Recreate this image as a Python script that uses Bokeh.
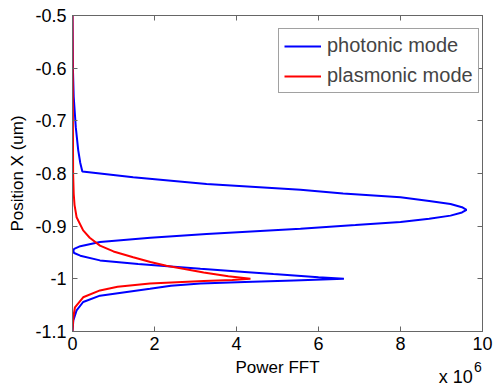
from bokeh.plotting import figure
from bokeh.models import (Range1d, LinearAxis, FixedTicker, CustomJSTickFormatter,
                          Legend, LegendItem)
from bokeh.embed import file_html
from bokeh.resources import INLINE

# ---- data (x in units of 1e6) ----
photonic_y = [-0.500, -0.600, -0.655, -0.712, -0.756, -0.780, -0.796, -0.807, -0.820,
              -0.831, -0.838, -0.845, -0.852, -0.858, -0.864, -0.869, -0.874, -0.880,
              -0.886, -0.892, -0.898, -0.905, -0.915, -0.922, -0.930, -0.938, -0.943,
              -0.947, -0.951, -0.956, -0.965, -0.972, -0.981, -0.987, -0.991, -0.997,
              -1.000, -1.003, -1.006, -1.009, -1.013, -1.019, -1.032, -1.044, -1.060,
              -1.079, -1.100]
photonic_x = [0.00, 0.01, 0.03, 0.08, 0.14, 0.19, 0.24, 1.48, 3.27,
              5.56, 6.60, 8.00, 8.70, 9.22, 9.50, 9.61, 9.50, 9.22,
              8.70, 8.00, 6.90, 5.56, 3.27, 1.90, 0.67, 0.19, 0.04,
              0.02, 0.04, 0.19, 0.67, 1.60, 3.12, 4.20, 4.90, 6.00,
              6.62, 5.40, 4.20, 3.12, 2.40, 1.89, 0.67, 0.26, 0.10,
              0.02, 0.00]

plasmonic_y = [-0.500, -0.600, -0.700, -0.800, -0.839, -0.860, -0.883, -0.908, -0.922,
               -0.937, -0.948, -0.959, -0.968, -0.975, -0.981, -0.988, -0.995, -1.000,
               -1.002, -1.004, -1.009, -1.015, -1.022, -1.035, -1.054, -1.073, -1.100]
plasmonic_x = [0.00, 0.005, 0.01, 0.015, 0.03, 0.05, 0.10, 0.26, 0.42,
               0.67, 1.00, 1.48, 1.90, 2.29, 2.70, 3.20, 3.80, 4.34,
               3.90, 3.20, 1.89, 1.10, 0.67, 0.26, 0.06, 0.02, 0.00]

x_ticks = [0, 2, 4, 6, 8, 10]
y_ticks = [-1.1, -1.0, -0.9, -0.8, -0.7, -0.6, -0.5]
series_names = ["photonic mode", "plasmonic mode"]
mult_base_text = "x 10"
mult_exp_text = "6"
mult_base_anchor = [9.35]
mult_exp_anchor = [9.89]

FONT = "Liberation Sans"
AX = "#666666"

p = figure(width=493, height=389, x_range=Range1d(0, 10), y_range=Range1d(-1.1, -0.5),
           output_backend="svg", toolbar_location=None,
           min_border_left=72, min_border_right=11, min_border_top=15, min_border_bottom=58)
p.grid.visible = False
p.outline_line_color = AX
p.background_fill_color = "white"

fmt = CustomJSTickFormatter(code="return (Math.round(tick*10)/10).toString();")
blank = CustomJSTickFormatter(code="return '';")

p.xaxis.ticker = FixedTicker(ticks=x_ticks)
p.yaxis.ticker = FixedTicker(ticks=y_ticks)
p.yaxis.formatter = fmt
p.xaxis.axis_label = "Power FFT"
p.yaxis.axis_label = "Position X (um)"

top = LinearAxis(ticker=FixedTicker(ticks=x_ticks), formatter=blank)
right = LinearAxis(ticker=FixedTicker(ticks=y_ticks), formatter=blank)
p.add_layout(top, "above")
p.add_layout(right, "right")

for ax in p.xaxis + p.yaxis:
    ax.major_tick_in = 5
    ax.major_tick_out = 0
    ax.minor_tick_in = 0
    ax.minor_tick_out = 0
    ax.axis_line_color = AX
    ax.major_tick_line_color = AX
    ax.major_label_text_font = FONT
    ax.major_label_text_font_size = "18px"
    ax.major_label_text_color = "black"
    ax.axis_label_text_font = FONT
    ax.axis_label_text_font_size = "17px"
    ax.axis_label_text_font_style = "normal"
    ax.axis_label_text_color = "black"

for ax in (top, right):
    ax.major_label_standoff = 0

p.xaxis[0].major_label_standoff = 6
p.xaxis[0].axis_label_standoff = 1
p.yaxis[0].major_label_standoff = 6
p.yaxis[0].axis_label_standoff = 5


def text_axis(anchor, text, size, standoff):
    a = LinearAxis(ticker=FixedTicker(ticks=anchor),
                   formatter=CustomJSTickFormatter(code="return '%s';" % text))
    a.axis_line_color = None
    a.major_tick_in = 0
    a.major_tick_out = 0
    a.minor_tick_in = 0
    a.minor_tick_out = 0
    a.major_label_standoff = standoff
    a.major_label_text_font = FONT
    a.major_label_text_font_size = size
    a.major_label_text_color = "black"
    return a


# exponent label "x 10^6" under the right end of the x axis
p.add_layout(text_axis(mult_base_anchor, mult_base_text, "18px", -13), "below")
p.add_layout(text_axis(mult_exp_anchor, mult_exp_text, "14px", -28), "below")

r1 = p.line(photonic_x, photonic_y, line_color="#0000FF", line_width=2)
r2 = p.line(plasmonic_x, plasmonic_y, line_color="#FF0000", line_width=2)

legend = Legend(items=[LegendItem(label=series_names[0], renderers=[r1]),
                       LegendItem(label=series_names[1], renderers=[r2])],
                location=(206, 238), margin=0, padding=5, spacing=7,
                glyph_width=37, glyph_height=18, label_height=18, label_standoff=6,
                label_text_font=FONT, label_text_font_size="20px",
                border_line_color="#444444", border_line_width=1,
                background_fill_color="white", background_fill_alpha=1)
p.add_layout(legend)

open("out.html", "w").write(file_html(p, INLINE))
